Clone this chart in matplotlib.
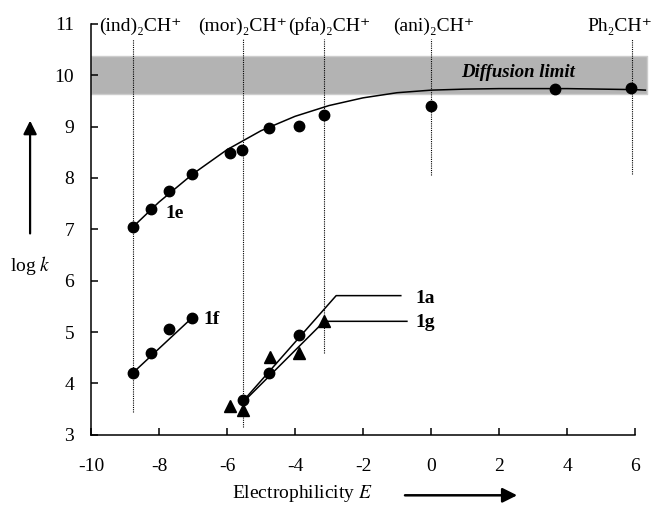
import numpy as np
import matplotlib
matplotlib.use("Agg")
import matplotlib.pyplot as plt

plt.rcParams['font.family'] = ['Liberation Serif', 'DejaVu Serif']
plt.rcParams['mathtext.fontset'] = 'stix'
plt.rcParams['axes.unicode_minus'] = False

# --- data ---
# 1e (circles) and its saturating fit curve
e_1e = [-8.76, -8.24, -7.71, -7.04, -5.90, -5.55, -4.75, -3.88, -3.14, 0.00, 3.63, 5.89]
k_1e = [7.04, 7.39, 7.74, 8.08, 8.49, 8.54, 8.98, 9.02, 9.22, 9.40, 9.73, 9.75]
e_fit_1e = [-8.76, -8.0, -7.0, -6.0, -5.0, -4.0, -3.0, -2.0, -1.0, 0.0, 1.0, 2.0, 3.0, 4.0, 5.0, 6.0, 6.3]
k_fit_1e = [7.05, 7.53, 8.08, 8.55, 8.92, 9.20, 9.41, 9.56, 9.66, 9.71, 9.73, 9.74, 9.74, 9.74, 9.73, 9.72, 9.71]

# 1f (circles)
e_1f = [-8.76, -8.24, -7.71, -7.04]
k_1f = [4.20, 4.60, 5.06, 5.27]
e_fit_1f = [-8.76, -7.04]
k_fit_1f = [4.21, 5.27]

# 1a (circles), fit line runs on as leader to the label
e_1a = [-5.54, -4.75, -3.88]
k_1a = [3.67, 4.21, 4.94]
e_fit_1a = [-5.55, -2.79, -0.89]
k_fit_1a = [3.64, 5.71, 5.71]

# 1g (triangles)
e_1g = [-5.91, -5.54, -4.74, -3.87, -3.15]
k_1g = [3.57, 3.49, 4.51, 4.60, 5.22]
e_fit_1g = [-5.58, -3.14, -0.71]
k_fit_1g = [3.60, 5.21, 5.21]

# reference electrophiles: E, label, bottom of dotted guide
ref_E = [-8.76, -5.53, -3.14, 0.00, 5.90]
ref_labels = ['(ind)₂CH⁺', '(mor)₂CH⁺', '(pfa)₂CH⁺', '(ani)₂CH⁺', 'Ph₂CH⁺']
ref_label_x = [-8.55, -5.53, -3.0, 0.08, 5.55]
ref_bottom = [3.45, 3.15, 4.60, 8.05, 8.08]
ref_top = 10.70

diff_low, diff_high = 9.64, 10.38

fig = plt.figure(figsize=(6.54, 5.08), dpi=100)
ax = fig.add_axes([0.139, 0.144, 0.853, 0.809])

# diffusion limit band
ax.fill_between([-10, 6.35], diff_low, diff_high, color='#b3b3b3', edgecolor='#cdcdcd', lw=1, zorder=0)
ax.text(2.55, 10.06, 'Diffusion limit', fontsize=13.5, fontweight='bold', style='italic', ha='center', va='center')

# dotted guides + labels on top
for e, lab, b in zip(ref_E, ref_labels, ref_bottom):
    ax.plot([e, e], [b, ref_top], color='k', lw=0.8, ls=(0, (1, 1)), zorder=1)
for lx, lab in zip(ref_label_x, ref_labels):
    ax.text(lx, 10.86, lab, fontsize=14, ha='center', va='baseline', clip_on=False)

# fit lines
ax.plot(e_fit_1e, k_fit_1e, color='k', lw=1.1)
ax.plot(e_fit_1f, k_fit_1f, color='k', lw=1.1)
ax.plot(e_fit_1a, k_fit_1a, color='k', lw=1.1)
ax.plot(e_fit_1g, k_fit_1g, color='k', lw=1.1)

# data points
ax.plot(e_1e, k_1e, 'o', color='k', ms=7.5, zorder=3)
ax.plot(e_1f, k_1f, 'o', color='k', ms=7.5, zorder=3)
ax.plot(e_1a, k_1a, 'o', color='k', ms=7.5, zorder=3)
ax.plot(e_1g, k_1g, '^', color='k', ms=8, zorder=3)

# series labels
ax.text(-7.82, 7.30, '1e', fontsize=14, fontweight='bold', va='center')
ax.text(-6.70, 5.24, '1f', fontsize=14, fontweight='bold', va='center')
ax.text(-0.47, 5.66, '1a', fontsize=14, fontweight='bold', va='center')
ax.text(-0.47, 5.19, '1g', fontsize=14, fontweight='bold', va='center')

ax.set_xlim(-10, 6.4)
ax.set_ylim(3, 11)
ax.set_xticks(np.arange(-10, 7, 2))
ax.set_yticks(np.arange(3, 12, 1))
ax.spines['top'].set_visible(False)
ax.spines['right'].set_visible(False)
ax.spines['bottom'].set_bounds(-10, 6)
for s in ['left', 'bottom']:
    ax.spines[s].set_linewidth(1.1)
ax.tick_params(axis='x', direction='in', length=5, width=1.1, pad=17, labelsize=14)
ax.tick_params(axis='y', direction='in', length=5, width=1.1, pad=12, labelsize=14)

# axis titles with arrows
fig.text(0.462, 0.028, 'Electrophilicity $E$', fontsize=14, ha='center', va='center')
ax.annotate('', xy=(0.795, 0.025), xytext=(0.615, 0.025), xycoords='figure fraction',
            textcoords='figure fraction',
            arrowprops=dict(arrowstyle='-|>', lw=1.8, color='k', mutation_scale=22))
fig.text(0.047, 0.478, 'log $k$', fontsize=14, ha='center', va='center')
ax.annotate('', xy=(0.046, 0.768), xytext=(0.046, 0.535), xycoords='figure fraction',
            textcoords='figure fraction',
            arrowprops=dict(arrowstyle='-|>', lw=1.6, color='k', mutation_scale=20))

fig.savefig('out.png', dpi=100)
